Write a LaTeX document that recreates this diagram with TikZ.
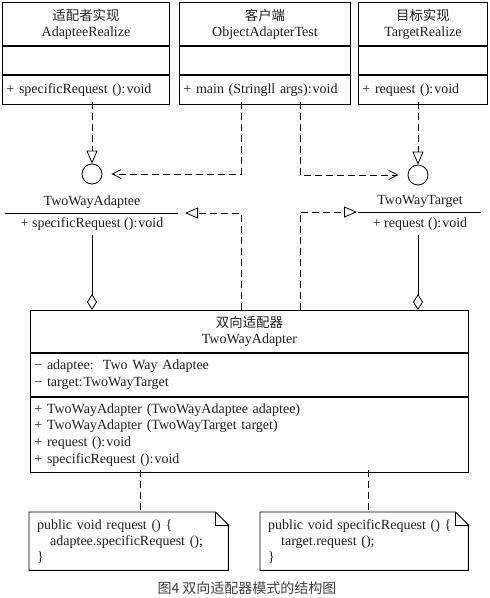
\documentclass[tikz,border=0pt]{standalone}
\usepackage{fontspec}
\setmainfont{Liberation Serif}
\newfontfamily\cjk{Noto Sans CJK SC}
\usetikzlibrary{arrows.meta}
\newcommand{\cv}{:\kern1pt void}
\begin{document}
\begin{tikzpicture}[x=1pt,y=-1pt,
  every node/.style={font=\fontsize{14}{16}\selectfont, inner sep=0pt, text=black!88},
  comp/.style={draw, line width=0.9pt, anchor=north west, inner xsep=4pt, inner ysep=0pt},
  lcomp/.style={comp, align=left},
  dashline/.style={line width=0.8pt, dash pattern=on 7pt off 4pt},
  solidline/.style={line width=0.8pt},
  realize/.style={dashline, -{Triangle[open, length=13pt, width=11pt, line width=0.8pt]}},
  depend/.style={dashline, -{Straight Barb[length=9pt, width=9pt, line width=0.8pt]}},
  aggreg/.style={solidline, -{Diamond[open, length=16pt, width=10pt, line width=0.8pt]}},
  iface/.style={circle, draw, line width=0.8pt, minimum size=20pt},
  notebox/.style={anchor=north west, inner xsep=8pt, align=left, font=\fontsize{14}{16}\selectfont},
  notedraw/.style={line width=0.9pt},
  ifline/.style={line width=0.9pt}
]
\useasboundingbox (0,0) rectangle (490,598);

% ---- top classes ----
\node[comp, minimum width=167, minimum height=43, align=center] (ah) at (2,2)
  {{\cjk\fontsize{13.4}{16}\selectfont 适配者实现}\\AdapteeRealize};
\node[comp, minimum width=167, minimum height=28] (aa) at (ah.south west) {};
\node[lcomp, minimum width=167, minimum height=29, text width=159] (am) at (aa.south west)
  {+ specificRequest ()\cv};

\node[comp, minimum width=171, minimum height=43, align=center] (ch) at (179,2)
  {{\cjk\fontsize{13.4}{16}\selectfont 客户端}\\ObjectAdapterTest};
\node[comp, minimum width=171, minimum height=28] (ca) at (ch.south west) {};
\node[lcomp, minimum width=171, minimum height=29, text width=163] (cm) at (ca.south west)
  {+ main (Stringll args)\cv};

\node[comp, minimum width=129, minimum height=43, align=center] (th) at (358,2)
  {{\cjk\fontsize{13.4}{16}\selectfont 目标实现}\\TargetRealize};
\node[comp, minimum width=129, minimum height=28] (ta) at (th.south west) {};
\node[lcomp, minimum width=129, minimum height=29, text width=121] (tm) at (ta.south west)
  {+ request ()\cv};

% ---- interfaces ----
\node[iface] (ic1) at (92,174) {};
\node[iface] (ic2) at (418,175) {};

\node (ain) at (92,202) {TwoWayAdaptee};
\node (aop) at (92,224) {+ specificRequest ()\cv};
\draw[ifline] (5,213) -- (178,213);

\node (tin) at (420,201) {TwoWayTarget};
\node (top) at (420,224) {+ request ()\cv};
\draw[ifline] (358,212) -- (481,212);

% ---- adapter ----
\node[comp, minimum width=438, minimum height=42, align=center] (wh) at (30,310)
  {{\cjk\fontsize{13.4}{15}\selectfont 双向适配器}\\TwoWayAdapter};
\node[lcomp, minimum width=438, minimum height=43, text width=430,
      font=\fontsize{14}{17}\selectfont] (wa) at (wh.south west)
  {− adaptee:\ \ Two Way Adaptee\\− target:\kern1pt TwoWayTarget};
\node[lcomp, minimum width=438, minimum height=75, text width=430,
      font=\fontsize{14}{16.7}\selectfont] (wm) at (wa.south west)
  {+ TwoWayAdapter (TwoWayAdaptee adaptee)\\+ TwoWayAdapter (TwoWayTarget target)\\+ request ()\cv\\+ specificRequest ()\cv};

% ---- notes ----
\node[notebox, minimum width=199, minimum height=58, text width=183] (n1) at (29,512)
  {public void request () \{\\\hspace*{13pt}adaptee.specificRequest ();\\\}};
\node[notebox, minimum width=208, minimum height=58, text width=192] (n2) at (260,512)
  {public void specificRequest () \{\\\hspace*{13pt}target.request ();\\\}};
\foreach \n in {n1,n2}{
  \draw[notedraw] (\n.north west) -- ([xshift=-13pt]\n.north east) -- ([yshift=-13pt]\n.north east)
     -- (\n.south east) -- (\n.south west) -- cycle;
  \draw[notedraw] ([xshift=-13pt]\n.north east) -- ([xshift=-13pt,yshift=-13pt]\n.north east)
     -- ([yshift=-13pt]\n.north east);
}

% ---- anchor coordinates ----
\coordinate (am1) at (92,102);
\coordinate (cm1) at (241,102);
\coordinate (cm2) at (300,102);
\coordinate (tm1) at (418,102);
\coordinate (aopb) at (92,235);
\coordinate (topb) at (418,235);
\coordinate (wh1) at (92,310);
\coordinate (wh2) at (241,310);
\coordinate (wh3) at (300,310);
\coordinate (wh4) at (418,310);
\coordinate (ainr) at (185,213);
\coordinate (tinl) at (357,212);
\coordinate (wm1) at (140,470);
\coordinate (wm2) at (368,470);
\coordinate (n1t) at (140,512);
\coordinate (n2t) at (368,512);

% ---- connectors ----
\draw[realize] (am1) -- (ic1.north);
\draw[realize] (tm1) -- (ic2.north);
\draw[depend, shorten >=9pt] (cm1) |- (ic1);
\draw[depend, shorten >=9pt] (cm2) |- (ic2);
\draw[realize] (wh2) |- (ainr);
\draw[realize] (wh3) |- (tinl);
\draw[aggreg] (aopb) -- (wh1);
\draw[aggreg] (topb) -- (wh4);
\draw[dashline] (wm1) -- (n1t);
\draw[dashline] (wm2) -- (n2t);

% ---- caption ----
\node[font=\cjk\fontsize{14}{16}\selectfont, text=black!75] (cap) at (247,588) {图4 双向适配器模式的结构图};
\end{tikzpicture}
\end{document}
